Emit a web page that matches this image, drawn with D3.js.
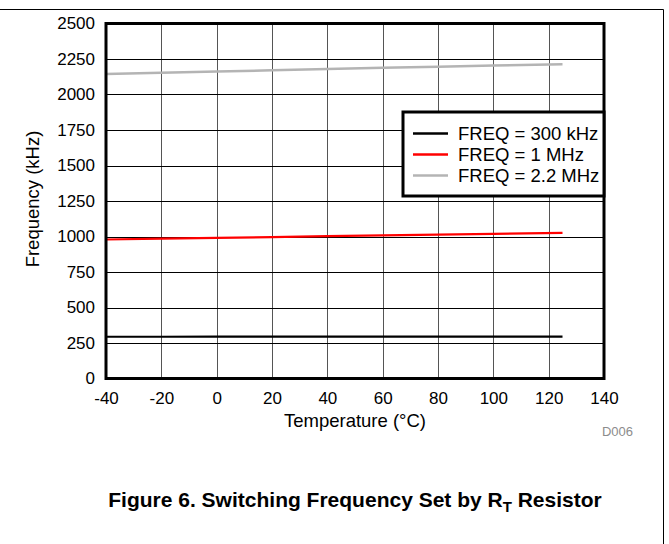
<!DOCTYPE html>
<html>
<head>
<meta charset="utf-8">
<script src="https://cdn.jsdelivr.net/npm/d3@7"></script>
<style>
  html, body { margin: 0; padding: 0; background: #fff; }
  svg { display: block; }
  text { font-family: "Liberation Sans", Arial, sans-serif; }
</style>
</head>
<body>
<svg id="chart" width="669" height="544"></svg>
<script>
// ---- data ----
const temperatures = [-40, -20, 0, 20, 40, 60, 80, 100, 125];
const freq300k = [294, 294, 295, 295, 295, 295, 295, 295, 295];
const freq1M = [979, 985, 990, 996, 1002, 1008, 1013, 1019, 1026];
const freq2M2 = [2144, 2153, 2162, 2170, 2179, 2188, 2196, 2204, 2213];
const seriesNames = ["FREQ = 300 kHz", "FREQ = 1 MHz", "FREQ = 2.2 MHz"];
const seriesColors = ["#000000", "#ff0000", "#b4b4b4"];
const xTicks = [-40, -20, 0, 20, 40, 60, 80, 100, 120, 140];
const yTicks = [0, 250, 500, 750, 1000, 1250, 1500, 1750, 2000, 2250, 2500];
const xTitle = "Temperature (°C)";
const yTitle = "Frequency (kHz)";

const svg = d3.select("#chart");
const W = 669, H = 544;
const L = 106, R = 604, T = 23.5, B = 378.5;

const x = d3.scaleLinear().domain([-40, 140]).range([L, R]);
const y = d3.scaleLinear().domain([0, 2500]).range([B, T]);

// outer frame lines
svg.append("line").attr("x1", 0).attr("x2", 663.5).attr("y1", 9.5).attr("y2", 9.5)
  .attr("stroke", "#000").attr("stroke-width", 1);
svg.append("line").attr("x1", 663.5).attr("x2", 663.5).attr("y1", 9.5).attr("y2", H)
  .attr("stroke", "#000").attr("stroke-width", 1);

// grid
const grid = svg.append("g");
grid.selectAll(".vg").data(xTicks.slice(1, -1)).enter().append("line")
  .attr("x1", d => Math.round(x(d)) + 0.5).attr("x2", d => Math.round(x(d)) + 0.5)
  .attr("y1", T).attr("y2", B).attr("stroke", "#555").attr("stroke-width", 1);
grid.selectAll(".hg").data(yTicks.slice(1, -1)).enter().append("line")
  .attr("x1", L).attr("x2", R)
  .attr("y1", d => Math.round(y(d)) + 0.5).attr("y2", d => Math.round(y(d)) + 0.5)
  .attr("stroke", "#000").attr("stroke-width", 1);

// series
const series = [freq300k, freq1M, freq2M2];
const line = d3.line().x(d => x(d[0])).y(d => y(d[1]));
series.forEach((vals, i) => {
  svg.append("path")
    .datum(temperatures.map((t, j) => [t, vals[j]]))
    .attr("d", line)
    .attr("fill", "none")
    .attr("stroke", seriesColors[i])
    .attr("stroke-width", i === 2 ? 2.5 : 2.2);
});

// plot border
svg.append("rect").attr("x", L).attr("y", T).attr("width", R - L).attr("height", B - T)
  .attr("fill", "none").attr("stroke", "#000").attr("stroke-width", 3);

// axes
const fmt = d => String(d);
const yAxis = svg.append("g").attr("transform", `translate(${L},0)`)
  .call(d3.axisLeft(y).tickValues(yTicks).tickSize(0).tickPadding(11).tickFormat(fmt));
const xAxis = svg.append("g").attr("transform", `translate(0,${B})`)
  .call(d3.axisBottom(x).tickValues(xTicks).tickSize(0).tickPadding(13).tickFormat(fmt));
[yAxis, xAxis].forEach(a => {
  a.select(".domain").remove();
  a.selectAll("text").attr("font-size", 17).attr("fill", "#000")
    .attr("font-family", "'Liberation Sans', Arial, sans-serif");
});

// axis titles
svg.append("text").attr("x", (L + R) / 2).attr("y", 427).attr("text-anchor", "middle")
  .attr("font-size", 18.5).text(xTitle);
svg.append("text").attr("transform", `translate(39,${(T + B) / 2 - 2}) rotate(-90)`)
  .attr("text-anchor", "middle").attr("font-size", 18.5).text(yTitle);

// D006
svg.append("text").attr("x", 633).attr("y", 436).attr("text-anchor", "end")
  .attr("font-size", 13).attr("fill", "#8c8c8c").text("D006");

// legend
const lg = svg.append("g");
lg.append("rect").attr("x", 403).attr("y", 112).attr("width", R - 403).attr("height", 84)
  .attr("fill", "#fff").attr("stroke", "#000").attr("stroke-width", 3);
seriesNames.forEach((n, i) => {
  const yy = 133.5 + i * 21;
  lg.append("line").attr("x1", 413).attr("x2", 448).attr("y1", yy).attr("y2", yy)
    .attr("stroke", seriesColors[i]).attr("stroke-width", 2.5);
  lg.append("text").attr("x", 458).attr("y", yy + 6.5).attr("font-size", 18.5).text(n);
});

// caption
const cap = svg.append("text").attr("x", 355).attr("y", 507).attr("text-anchor", "middle")
  .attr("font-size", 21).attr("font-weight", "bold");
cap.append("tspan").text("Figure 6. Switching Frequency Set by R");
cap.append("tspan").attr("font-size", 15).attr("dy", 5).text("T");
cap.append("tspan").attr("dy", -5).text(" Resistor");
</script>
</body>
</html>
